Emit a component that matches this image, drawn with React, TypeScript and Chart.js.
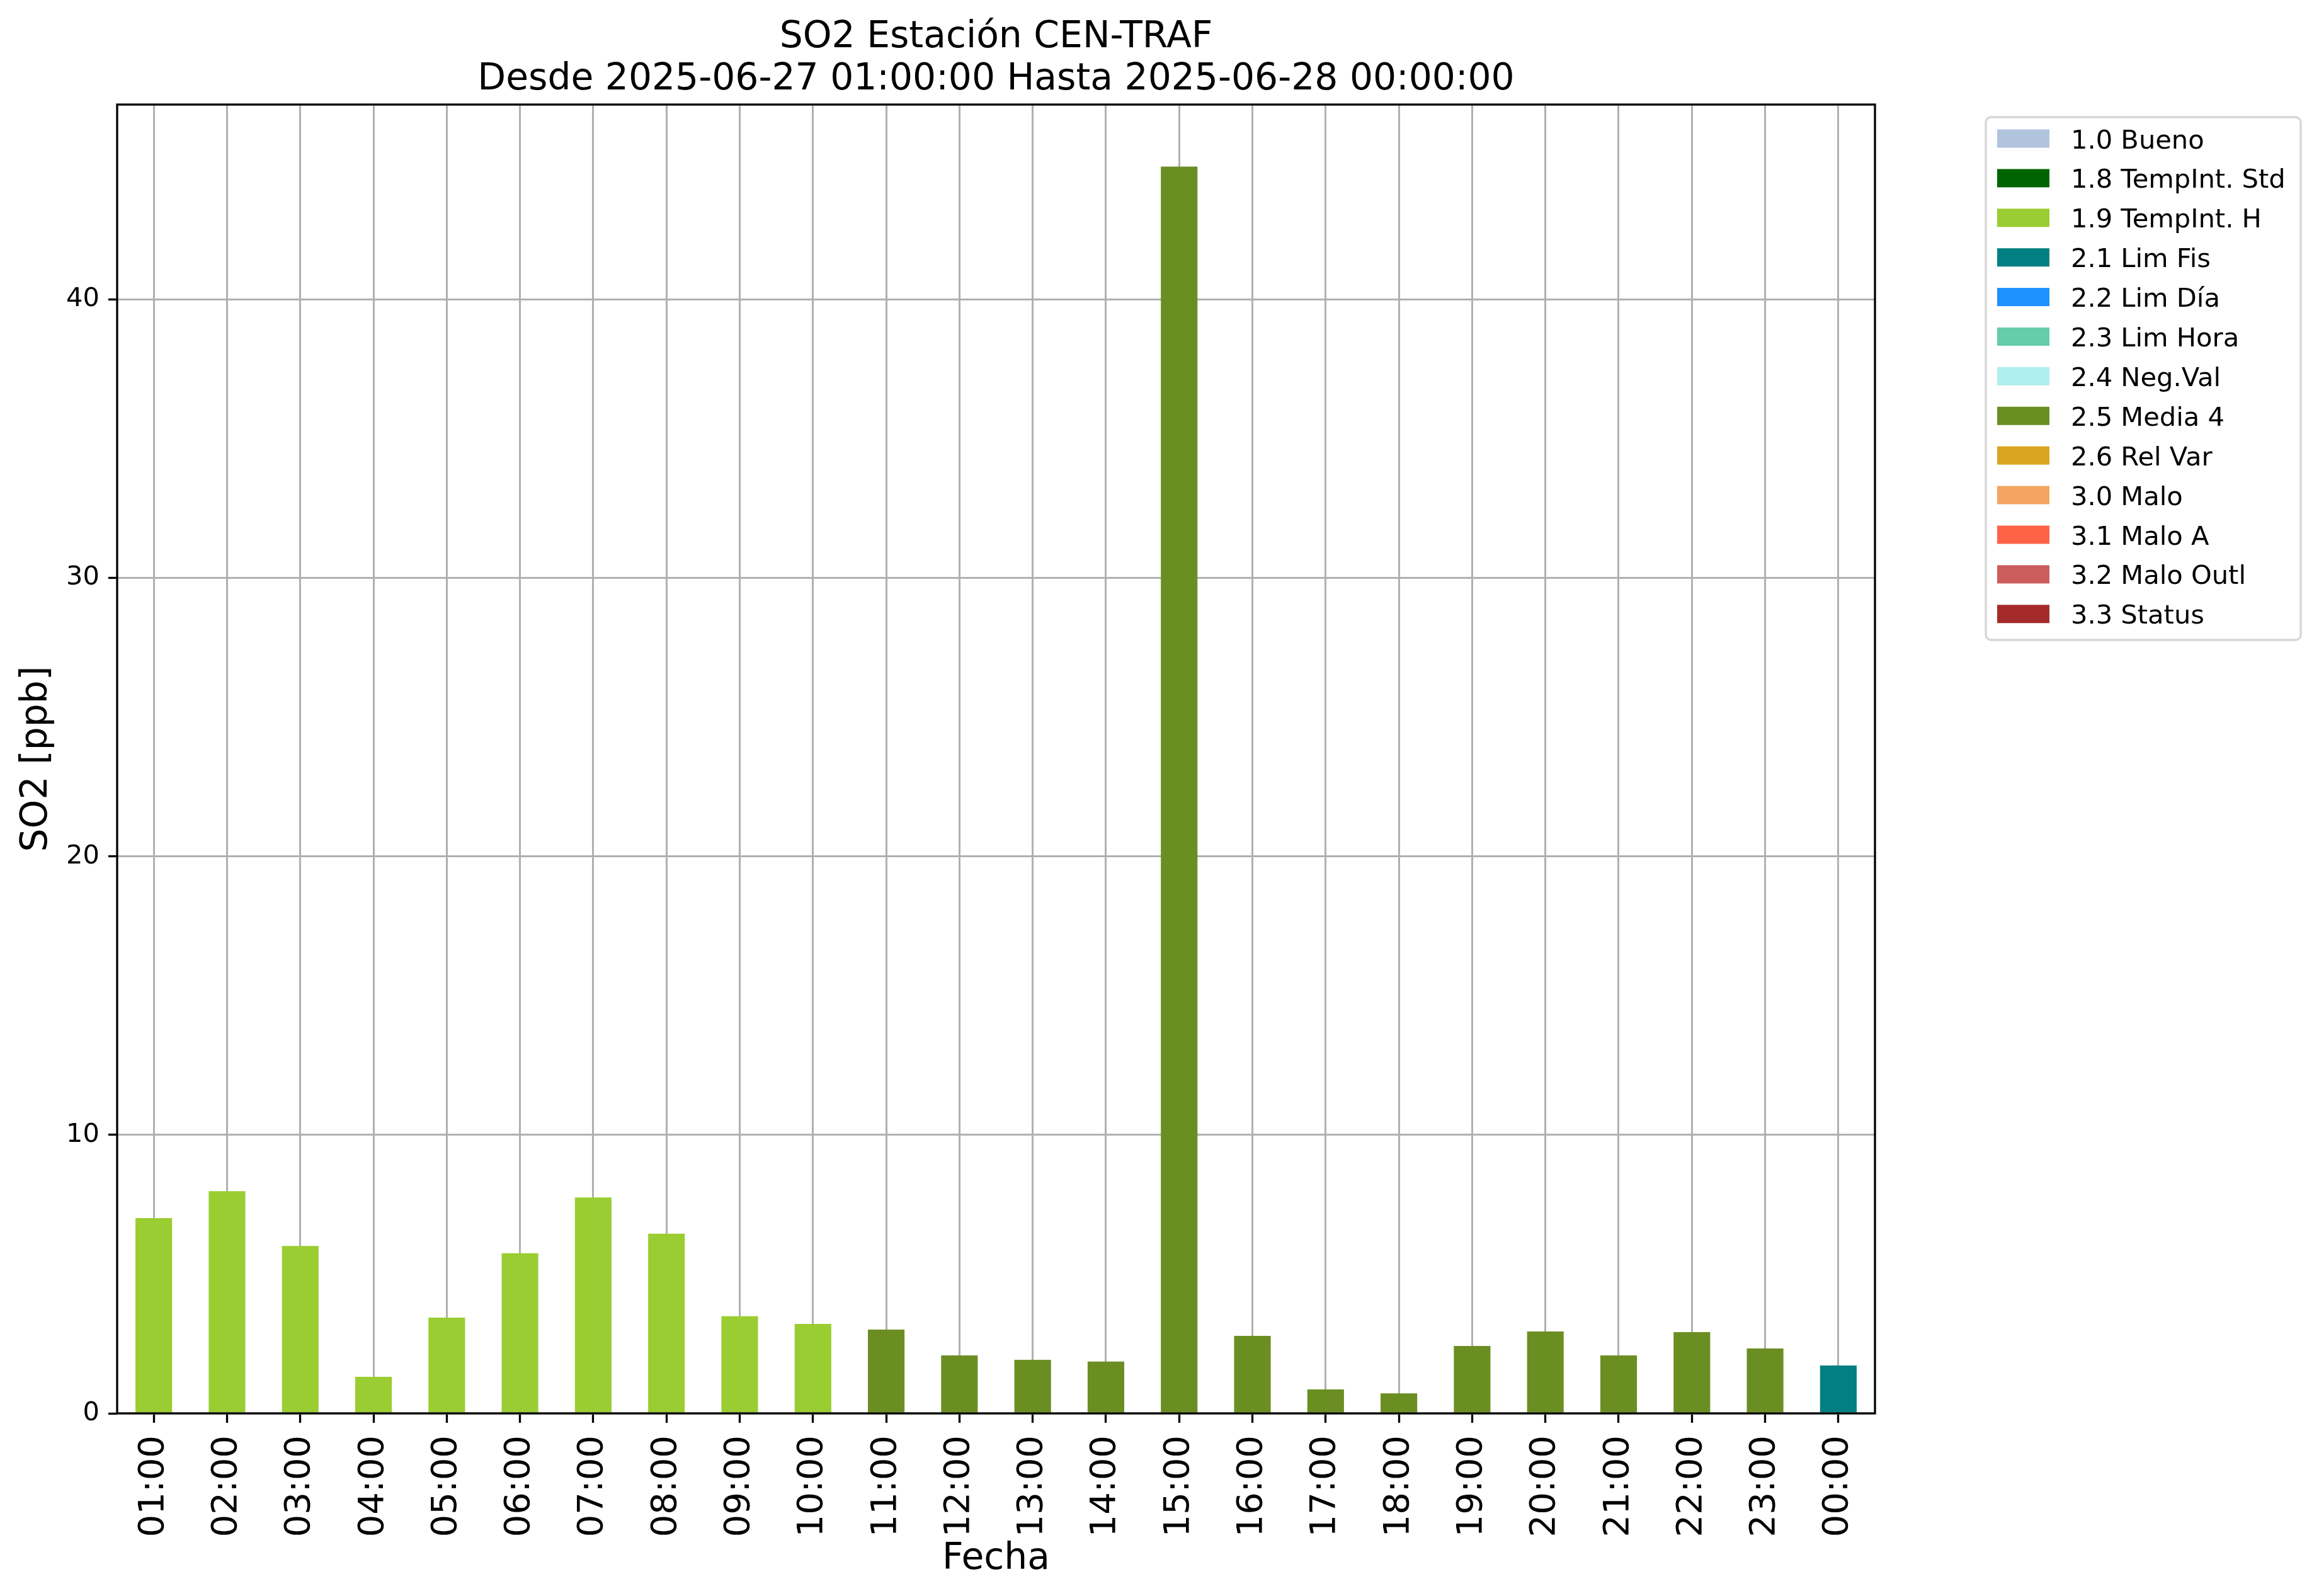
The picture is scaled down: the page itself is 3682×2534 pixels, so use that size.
import React, { useEffect, useRef } from 'react';
import { Chart, registerables } from 'chart.js';

Chart.register(...registerables);

// ---------- data ----------
const hours = [
  '01:00', '02:00', '03:00', '04:00', '05:00', '06:00', '07:00', '08:00',
  '09:00', '10:00', '11:00', '12:00', '13:00', '14:00', '15:00', '16:00',
  '17:00', '18:00', '19:00', '20:00', '21:00', '22:00', '23:00', '00:00',
];

const so2Values = [
  7.01, 7.98, 6.01, 1.31, 3.44, 5.75, 7.75, 6.45,
  3.49, 3.21, 3.01, 2.08, 1.92, 1.86, 44.77, 2.78,
  0.86, 0.72, 2.42, 2.94, 2.08, 2.92, 2.33, 1.72,
];

const barFlags = [
  '1.9', '1.9', '1.9', '1.9', '1.9', '1.9', '1.9', '1.9',
  '1.9', '1.9', '2.5', '2.5', '2.5', '2.5', '2.5', '2.5',
  '2.5', '2.5', '2.5', '2.5', '2.5', '2.5', '2.5', '2.1',
];

const flagCodes = ['1.0', '1.8', '1.9', '2.1', '2.2', '2.3', '2.4', '2.5', '2.6', '3.0', '3.1', '3.2', '3.3'];
const flagLabels = [
  '1.0 Bueno', '1.8 TempInt. Std', '1.9 TempInt. H', '2.1 Lim Fis', '2.2 Lim Día',
  '2.3 Lim Hora', '2.4 Neg.Val', '2.5 Media 4', '2.6 Rel Var', '3.0 Malo',
  '3.1 Malo A', '3.2 Malo Outl', '3.3 Status',
];
const flagColors = [
  '#B0C4DE', '#006400', '#9ACD32', '#008080', '#1E90FF',
  '#66CDAA', '#AFEEEE', '#6B8E23', '#DAA520', '#F4A460',
  '#FF6347', '#CD5C5C', '#A52A2A',
];

const yTicks = [0, 10, 20, 30, 40];
const yMax = 47.0;

const titleLines = ['SO2 Estación CEN-TRAF', 'Desde 2025-06-27 01:00:00 Hasta 2025-06-28 00:00:00'];
const yAxisTitle = 'SO2 [ppb]';
const xAxisTitle = 'Fecha';

// ---------- layout ----------
const W = 3682;
const H = 2534;
const FONT = '"DejaVu Sans", "Liberation Sans", sans-serif';
const PLOT = { left: 186, top: 166, right: 2977, bottom: 2244 };

const decorPlugin = {
  id: 'decor',
  afterDraw(chart: any) {
    const { ctx, chartArea: a } = chart;
    ctx.save();
    // spines
    ctx.strokeStyle = '#000';
    ctx.lineWidth = 3.3;
    ctx.strokeRect(a.left, a.top, a.right - a.left, a.bottom - a.top);

    // title
    const cx = (a.left + a.right) / 2;
    ctx.fillStyle = '#000';
    ctx.font = `58.3px ${FONT}`;
    ctx.textAlign = 'center';
    ctx.textBaseline = 'alphabetic';
    ctx.fillText(titleLines[0], cx, 75);
    ctx.fillText(titleLines[1], cx, 142);

    // x axis title
    ctx.fillText(xAxisTitle, cx, 2491);

    // y axis title
    ctx.save();
    ctx.translate(74, (a.top + a.bottom) / 2);
    ctx.rotate(-Math.PI / 2);
    ctx.fillText(yAxisTitle, 0, 0);
    ctx.restore();

    // legend
    const lx = a.right + 176;
    const ly = a.top + 20;
    const lw = 500;
    const lh = 830;
    ctx.beginPath();
    ctx.roundRect(lx, ly, lw, lh, 8);
    ctx.fillStyle = 'rgba(255,255,255,0.8)';
    ctx.fill();
    ctx.strokeStyle = '#d6d6d6';
    ctx.lineWidth = 3.3;
    ctx.stroke();

    ctx.font = `41.6px ${FONT}`;
    ctx.textAlign = 'left';
    ctx.textBaseline = 'alphabetic';
    flagLabels.forEach((lab, i) => {
      const cy = ly + 34 + i * 62.9;
      ctx.fillStyle = flagColors[i];
      ctx.fillRect(lx + 18, cy - 14.5, 83, 29);
      ctx.fillStyle = '#000';
      ctx.fillText(lab, lx + 135, cy + 15.5);
    });
    ctx.restore();
  },
};

export default function App() {
  const ref = useRef<HTMLCanvasElement>(null);

  useEffect(() => {
    const canvas = ref.current;
    if (!canvas) return;
    const chart = new Chart(canvas, {
      type: 'bar',
      data: {
        labels: hours,
        datasets: [
          {
            label: 'SO2',
            data: so2Values,
            backgroundColor: barFlags.map((f) => flagColors[flagCodes.indexOf(f)]),
            borderWidth: 0,
            barPercentage: 0.5,
            categoryPercentage: 1.0,
          },
        ],
      },
      options: {
        responsive: false,
        maintainAspectRatio: false,
        animation: false,
        devicePixelRatio: 1,
        layout: {
          padding: { left: 0, top: PLOT.top, right: W - PLOT.right, bottom: 0 },
        },
        plugins: {
          legend: { display: false },
          title: { display: false },
          tooltip: { enabled: false },
        },
        scales: {
          x: {
            type: 'category',
            offset: true,
            z: 1,
            border: { display: false },
            grid: {
              offset: false,
              color: '#b0b0b0',
              lineWidth: 3,
              tickColor: '#000',
              tickWidth: 3.3,
              tickLength: 15,
            },
            ticks: {
              color: '#000',
              font: { family: FONT, size: 56 },
              minRotation: 90,
              maxRotation: 90,
              autoSkip: false,
              padding: 20,
            },
            afterFit: (s: any) => {
              s.height = H - PLOT.bottom;
            },
          },
          y: {
            min: 0,
            max: yMax,
            z: 1,
            border: { display: false },
            grid: {
              color: '#b0b0b0',
              lineWidth: 3,
              tickColor: '#000',
              tickWidth: 3.3,
              tickLength: 14,
            },
            ticks: {
              color: '#000',
              font: { family: FONT, size: 41.6 },
              padding: 14,
            },
            afterBuildTicks: (s: any) => {
              s.ticks = yTicks.map((v) => ({ value: v }));
            },
            afterFit: (s: any) => {
              s.width = PLOT.left;
            },
          },
        },
      },
      plugins: [decorPlugin],
    } as any);
    return () => chart.destroy();
  }, []);

  return (
    <div style={{ position: 'fixed', left: 0, top: 0, width: W, height: H, background: '#fff' }}>
      <canvas ref={ref} width={W} height={H} style={{ width: W, height: H, display: 'block' }} />
    </div>
  );
}
